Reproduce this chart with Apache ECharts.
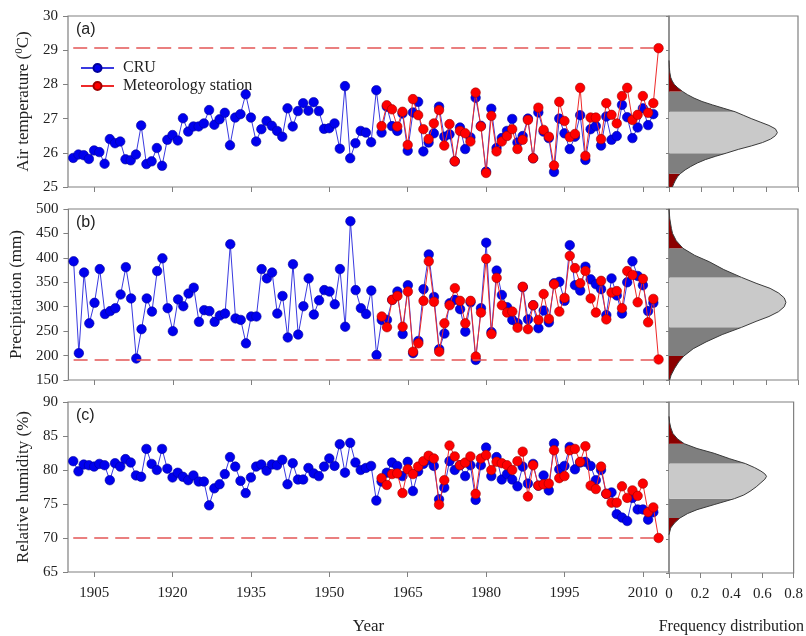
<!DOCTYPE html>
<html><head><meta charset="utf-8">
<script src="https://cdn.jsdelivr.net/npm/echarts@6/dist/echarts.min.js"></script>
<style>html,body{margin:0;padding:0;background:#fff}#c{width:806px;height:636px}</style>
</head><body><div id="c"></div>
<script>
// ---------------- data ----------------
const cruYears = [
 1901,1902,1903,1904,1905,1906,1907,1908,1909,1910,
 1911,1912,1913,1914,1915,1916,1917,1918,1919,1920,
 1921,1922,1923,1924,1925,1926,1927,1928,1929,1930,
 1931,1932,1933,1934,1935,1936,1937,1938,1939,1940,
 1941,1942,1943,1944,1945,1946,1947,1948,1949,1950,
 1951,1952,1953,1954,1955,1956,1957,1958,1959,1960,
 1961,1962,1963,1964,1965,1966,1967,1968,1969,1970,
 1971,1972,1973,1974,1975,1976,1977,1978,1979,1980,
 1981,1982,1983,1984,1985,1986,1987,1988,1989,1990,
 1991,1992,1993,1994,1995,1996,1997,1998,1999,2000,
 2001,2002,2003,2004,2005,2006,2007,2008,2009,2010,
 2011,2012];
const stationYears = [
 1960,1961,1962,1963,1964,1965,1966,1967,1968,1969,
 1970,1971,1972,1973,1974,1975,1976,1977,1978,1979,
 1980,1981,1982,1983,1984,1985,1986,1987,1988,1989,
 1990,1991,1992,1993,1994,1995,1996,1997,1998,1999,
 2000,2001,2002,2003,2004,2005,2006,2007,2008,2009,
 2010,2011,2012,2013];

const tempCRU = [
 25.85,25.95,25.93,25.82,26.07,26.02,25.68,26.40,26.28,26.33,
 25.81,25.78,25.95,26.80,25.67,25.75,26.14,25.62,26.38,26.52,
 26.36,27.01,26.62,26.77,26.77,26.86,27.25,26.82,26.98,27.17,
 26.22,27.03,27.13,27.71,27.03,26.33,26.69,26.93,26.79,26.64,
 26.47,27.30,26.77,27.22,27.45,27.23,27.48,27.22,26.70,26.72,
 26.86,26.12,27.95,25.84,26.28,26.64,26.59,26.31,27.83,26.59,
 27.35,26.78,26.64,27.15,26.06,27.18,27.49,26.04,26.30,26.57,
 27.35,26.47,26.54,25.75,26.74,26.11,26.45,27.61,26.79,25.45,
 27.29,26.14,26.43,26.64,26.99,26.30,26.49,27.00,25.84,27.18,
 26.62,26.43,25.44,27.00,26.57,26.11,26.47,27.10,25.79,26.69,
 26.78,26.21,27.06,26.38,26.49,27.40,27.04,26.43,26.74,27.30,
 26.81,27.13];
const tempStation = [
 26.78,27.39,27.27,26.77,27.20,26.23,27.57,27.10,26.69,26.40,
 26.86,27.25,26.21,26.84,25.75,26.64,26.57,26.33,27.76,26.77,
 25.41,27.08,26.04,26.33,26.49,26.69,26.11,26.38,26.96,25.84,
 27.32,26.67,26.47,25.63,27.49,26.93,26.46,26.55,27.90,25.91,
 27.03,27.03,26.40,27.45,27.11,26.86,27.66,27.90,26.96,27.11,
 27.66,27.17,27.45,29.06];

const precCRU = [
 393,205,370,266,308,377,285,291,297,325,
 381,317,194,254,317,290,373,399,297,250,
 315,301,327,339,269,293,291,269,282,286,
 428,276,273,225,280,280,377,358,370,286,
 322,237,387,243,301,358,284,313,334,331,
 305,377,259,475,334,297,285,333,201,273,
 273,314,331,244,344,205,230,336,407,320,
 213,245,307,314,295,249,309,191,297,431,
 248,374,324,299,273,266,340,274,303,256,
 292,268,348,351,312,426,344,333,382,356,
 346,336,283,358,323,286,350,393,363,344,
 291,308];
const precStation = [
 280,258,314,322,259,331,208,225,312,393,
 310,208,266,303,338,312,266,312,198,288,
 398,244,359,303,288,290,257,341,254,303,
 273,326,275,346,290,318,404,379,348,373,
 317,288,353,274,329,332,297,373,365,309,
 357,268,316,192];

const humCRU = [
 81.3,79.8,80.8,80.7,80.5,80.9,80.7,78.5,81.0,80.5,
 81.6,81.1,79.2,79.0,83.1,80.9,80.0,83.1,80.2,78.9,
 79.6,79.0,78.5,79.2,78.3,78.3,74.8,77.3,77.9,79.4,
 81.9,80.5,78.4,76.6,78.9,80.5,80.8,79.9,80.8,80.7,
 81.5,77.9,81.0,78.6,78.6,80.3,79.5,79.1,80.5,81.7,
 80.6,83.8,79.6,84.0,81.1,80.0,80.3,80.6,75.5,78.3,
 79.6,81.1,80.6,79.1,81.2,76.9,79.8,80.9,81.5,80.6,
 75.7,77.4,81.3,80.0,80.7,79.1,80.7,75.6,80.7,83.3,
 79.1,81.9,78.6,79.4,78.6,77.6,80.5,78.0,80.9,77.7,
 79.2,77.0,83.9,80.1,80.6,83.4,80.1,81.1,81.2,80.6,
 78.5,80.0,76.5,76.7,73.5,73.0,72.5,75.9,74.2,74.2,
 72.7,73.8];
const humStation = [
 78.8,77.8,79.4,79.5,76.6,80.1,79.4,80.5,81.3,82.1,
 81.7,74.9,78.5,83.6,82.0,80.7,81.1,82.0,76.5,81.7,
 82.2,80.0,81.2,81.0,80.7,80.0,81.3,82.7,76.1,80.7,
 77.7,77.9,78.0,82.9,78.8,79.1,82.9,83.1,81.2,83.5,
 77.7,77.2,80.5,76.5,75.2,75.2,77.6,75.9,77.0,76.2,
 78.0,73.8,74.5,70.0];

// dashed reference levels and the years they span
const thresholds = [29.06, 192, 70];
const dashYears = [1901, 2013];
const yearTicks = [1905, 1920, 1935, 1950, 1965, 1980, 1995, 2010];

// frequency distribution curves: [value, frequency]
const tempCurve = [
 [25.0,0.021],[25.1,0.03],[25.2,0.04],[25.3,0.053],[25.39,0.07],[25.5,0.1],[25.6,0.135],[25.7,0.175],
 [25.8,0.225],[25.9,0.29],[25.99,0.355],[26.1,0.43],[26.2,0.51],[26.3,0.58],[26.4,0.63],[26.5,0.66],
 [26.59,0.672],[26.7,0.66],[26.8,0.62],[26.9,0.565],[27.0,0.51],[27.1,0.46],[27.2,0.41],[27.3,0.34],
 [27.4,0.27],[27.5,0.205],[27.6,0.155],[27.7,0.115],[27.79,0.085],[27.9,0.055],[28.0,0.033],[28.1,0.02],
 [28.2,0.011],[28.35,0.005],[28.5,0.002],[28.7,0.0]];
const precCurve = [
 [150,0.004],[160,0.013],[174,0.035],[187,0.06],[199,0.092],[214,0.15],[228,0.23],[243,0.33],
 [257.8,0.45],[270,0.54],[280,0.62],[290,0.68],[300,0.715],[309,0.725],[318,0.715],[328,0.68],
 [337.6,0.627],[348,0.54],[360,0.45],[376,0.34],[392,0.25],[405,0.16],[419.5,0.087],[435,0.045],
 [450,0.022],[460,0.015],[480,0.005],[500,0.0]];
const humCurve = [
 [70.6,0.0],[71.58,0.011],[72.3,0.035],[73.04,0.07],[73.7,0.12],[74.26,0.18],[75.0,0.29],[75.87,0.42],
 [76.4,0.48],[76.94,0.52],[77.6,0.56],[78.2,0.59],[78.7,0.615],[79.13,0.626],[79.5,0.615],[79.9,0.59],
 [80.4,0.55],[81.0,0.49],[81.7,0.39],[82.5,0.29],[83.2,0.18],[83.9,0.098],[84.6,0.055],[85.4,0.025],
 [86.2,0.012],[87.0,0.004],[87.9,0.0]];
// shaded bands: [from, to, kind]
const tempBands = [[25.0,25.39,'tail'],[25.39,25.99,'sd2'],[25.99,27.2,'sd1'],[27.2,27.79,'sd2'],[27.79,28.7,'tail']];
const precBands = [[150,199,'tail'],[199,257.8,'sd2'],[257.8,360,'sd1'],[360,419.5,'sd2'],[419.5,500,'tail']];
const humBands  = [[70.6,73.04,'tail'],[73.04,75.87,'sd2'],[75.87,81.0,'sd1'],[81.0,83.9,'sd2'],[83.9,87.9,'tail']];

const freqTicks = [0, 0.2, 0.4, 0.6, 0.8];

// ---------------- layout / style ----------------
const SERIF = 'Liberation Serif';
const bandColors = {tail:'#8b0000', sd2:'#7f7f7f', sd1:'#c9c9c9'};
const panels = [
  {top:16,  min:25,  max:30,  interval:1,  cru:tempCRU, st:tempStation, curve:tempCurve, bands:tempBands, label:'(a)',
   name:'{t|Air temperature (}{s|0}{t|C)}'},
  {top:209, min:150, max:500, interval:50, cru:precCRU, st:precStation, curve:precCurve, bands:precBands, label:'(b)',
   name:'{t|Precipitation (mm)}'},
  {top:402, min:65,  max:90,  interval:5,  cru:humCRU,  st:humStation,  curve:humCurve,  bands:humBands,  label:'(c)',
   name:'{t|Relative humidity (%)}'}
];
const H = 171;
const grid = [], xAxis = [], yAxis = [], series = [], title = [];
const axisGray = '#808080';

panels.forEach((p, i) => {
  const last = i === 2;
  grid.push({left:68, width:601, top:p.top, height:H, show:true, borderColor:axisGray, borderWidth:1.2, containLabel:false});
  grid.push({left:669, width:129, top:p.top, height:H, show:true, borderColor:axisGray, borderWidth:1.2, containLabel:false});
  const gm = 2*i, gf = 2*i+1;
  xAxis.push({type:'value', gridIndex:gm, min:1900, max:2015, splitLine:{show:false},
    axisLine:{show:false},
    axisTick:{show:true, inside:false, length:5, customValues:yearTicks, lineStyle:{color:axisGray}},
    axisLabel:{show:last, customValues:yearTicks, formatter:v=>String(v), fontFamily:SERIF, fontSize:15, color:'#222', margin:14},
    name: last ? 'Year' : '', nameLocation:'middle', nameGap:46,
    nameTextStyle:{fontFamily:SERIF, fontSize:17, color:'#222'}});
  xAxis.push({type:'value', gridIndex:gf, min:0, max:0.8, interval:0.2, splitLine:{show:false},
    axisLine:{show:false},
    axisTick:{show:true, inside:false, length:5, customValues:freqTicks, lineStyle:{color:axisGray}},
    axisLabel:{show:last, customValues:freqTicks, formatter:v=> v===0 ? '0' : v.toFixed(1), fontFamily:SERIF, fontSize:15, color:'#222', margin:14},
    name: last ? 'Frequency distribution' : '', nameLocation:'middle', nameGap:46,
    nameTextStyle:{fontFamily:SERIF, fontSize:16, color:'#222'}});
  yAxis.push({type:'value', gridIndex:gm, min:p.min, max:p.max, interval:p.interval, splitLine:{show:false},
    axisLine:{show:false},
    axisTick:{show:true, inside:false, length:5, lineStyle:{color:axisGray}},
    axisLabel:{fontFamily:SERIF, fontSize:15, color:'#222', margin:10},
    name:p.name, nameLocation:'middle', nameGap:32,
    nameTextStyle:{color:'#222', rich:{t:{fontFamily:SERIF, fontSize:17, color:'#222'}, s:{fontFamily:SERIF, fontSize:11, color:'#222', padding:[0,0,9,0]}}}});
  yAxis.push({type:'value', gridIndex:gf, min:p.min, max:p.max, interval:p.interval, splitLine:{show:false},
    axisLine:{show:false},
    axisTick:{show:true, inside:false, length:3, lineStyle:{color:axisGray}},
    axisLabel:{show:false}});

  series.push({name:'CRU', type:'line', xAxisIndex:gm, yAxisIndex:gm, z:3,
    data: cruYears.map((y,k)=>[y, p.cru[k]]),
    symbol:'circle', symbolSize:9.5, showAllSymbol:true,
    lineStyle:{color:'#3a3ae0', width:1},
    itemStyle:{color:'#0000ee', borderColor:'#00009a', borderWidth:0.6}});
  series.push({name:'Meteorology station', type:'line', xAxisIndex:gm, yAxisIndex:gm, z:4,
    data: stationYears.map((y,k)=>[y, p.st[k]]),
    symbol:'circle', symbolSize:9.5, showAllSymbol:true,
    lineStyle:{color:'#ee2a2a', width:1},
    itemStyle:{color:'#ff0000', borderColor:'#a00000', borderWidth:0.6},
    markLine:{silent:true, symbol:['none','none'], label:{show:false}, animation:false,
      lineStyle:{color:'#e35656', type:[14,7], width:1.5},
      data:[[{coord:[dashYears[0], thresholds[i]]}, {coord:[dashYears[1], thresholds[i]]}]]}});

  const curve = p.curve, bands = p.bands;
  series.push({type:'custom', xAxisIndex:gf, yAxisIndex:gf, z:2, silent:true,
    dimensions:['lo','hi'], encode:{y:[0,1]},
    data: bands.map(b=>[b[0], b[1]]),
    renderItem:(params, api)=>{
      const b = bands[params.dataIndex];
      const lo = b[0], hi = b[1];
      const pts = [api.coord([0, lo])];
      curve.forEach(c => { if (c[0] >= lo - 1e-9 && c[0] <= hi + 1e-9) pts.push(api.coord([c[1], c[0]])); });
      pts.push(api.coord([0, hi]));
      return {type:'polygon', shape:{points:pts}, style:{fill:bandColors[b[2]], stroke:null}};
    }});
  series.push({type:'line', xAxisIndex:gf, yAxisIndex:gf, z:3, silent:true, showSymbol:false,
    data: curve.map(c=>[c[1], c[0]]),
    lineStyle:{color:'#3a3a3a', width:1}});

  title.push({text:p.label, left:71, top:p.top+1, textStyle:{fontFamily:'Liberation Sans', fontSize:16, fontWeight:'normal', color:'#222'}});
});

const chart = echarts.init(document.getElementById('c'), null, {renderer:'canvas'});
chart.setOption({
  animation:false,
  backgroundColor:'#fff',
  title,
  legend:{data:['CRU','Meteorology station'], orient:'vertical', left:75, top:55, itemWidth:33, itemHeight:10, itemGap:2,
    textStyle:{fontFamily:SERIF, fontSize:16, color:'#222', padding:[0,0,0,4]}},
  grid, xAxis, yAxis, series
});
</script></body></html>
